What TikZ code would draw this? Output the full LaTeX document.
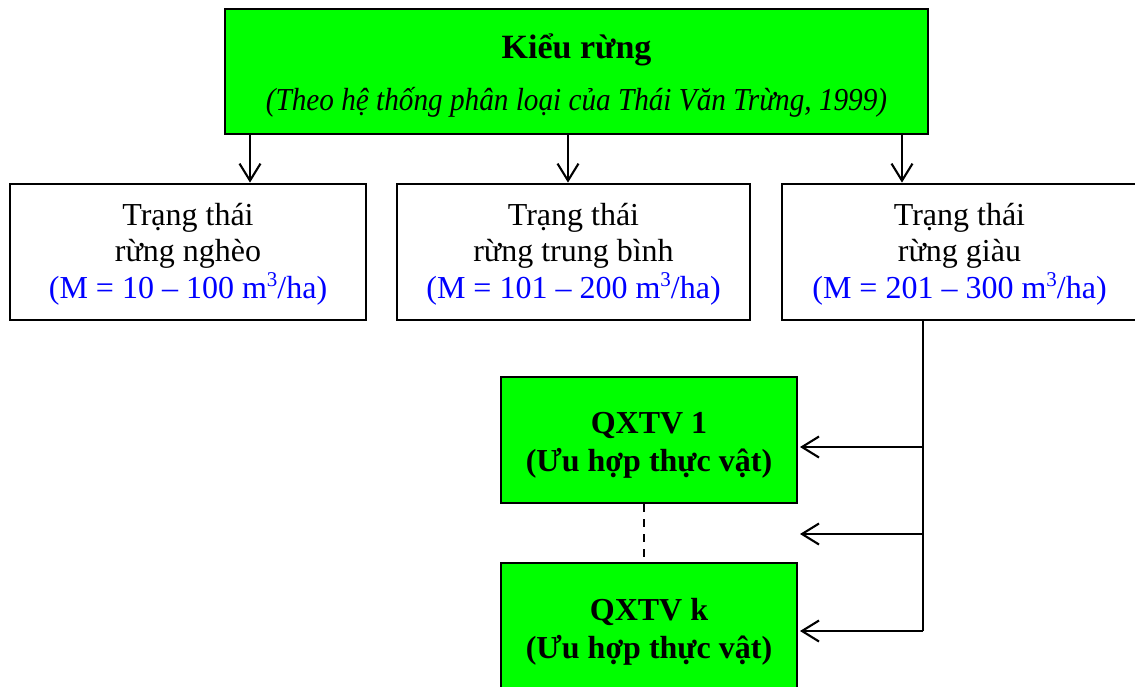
\documentclass[tikz,border=0pt]{standalone}
\usepackage{graphicx}
\usepackage{fontspec}
\setmainfont{Liberation Serif}
\usetikzlibrary{arrows.meta}
\definecolor{boxgreen}{RGB}{0,255,0}
\definecolor{valblue}{RGB}{0,0,255}
\newcommand{\cubesup}{\raisebox{12pt}{\fontsize{21}{21}\selectfont 3}}
\begin{document}
\begin{tikzpicture}[x=1pt,y=-1pt,
  box/.style={draw=black, line width=2.8pt, inner sep=0pt},
  greenbox/.style={box, fill=boxgreen},
  whitebox/.style={box, fill=white},
  boxtext/.style={inner sep=0pt, align=center, font=\fontsize{32}{36.5}\selectfont},
  conn/.style={line width=2.1pt, draw=black,
    -{Straight Barb[length=17pt, width=21pt, line width=2.1pt]}},
  plainline/.style={line width=2.1pt, draw=black},
  dashline/.style={line width=2.2pt, draw=black, dash pattern=on 8pt off 7pt}]
\useasboundingbox (0,0) rectangle (1135,686);
\clip (0,0) rectangle (1135,686);

% top box
\node[greenbox, minimum width=703pt, minimum height=125pt] (top) at (576.5,71.5) {};
\node[boxtext] (toptext) at ([yshift=-4pt]top.center)
  {{\fontsize{34}{36}\selectfont\bfseries Kiểu rừng}\\[16pt]\scalebox{0.913}[1]{\textit{(Theo hệ thống phân loại của Thái Văn Trừng, 1999)}}};

% second row
\node[whitebox, minimum width=356pt, minimum height=136pt] (poor) at (188,252) {};
\node[boxtext] (poortext) at ([yshift=-2pt]poor.center)
  {Trạng thái\\rừng nghèo\\\textcolor{valblue}{(M = 10 – 100 m\cubesup/ha)}};
\node[whitebox, minimum width=353pt, minimum height=136pt] (mid) at (573.5,252) {};
\node[boxtext] (midtext) at ([yshift=-2pt]mid.center)
  {Trạng thái\\rừng trung bình\\\textcolor{valblue}{(M = 101 – 200 m\cubesup/ha)}};
\node[whitebox, minimum width=355pt, minimum height=136pt] (rich) at (959.5,252) {};
\node[boxtext] (richtext) at ([yshift=-2pt]rich.center)
  {Trạng thái\\rừng giàu\\\textcolor{valblue}{(M = 201 – 300 m\cubesup/ha)}};

% QXTV boxes
\node[greenbox, minimum width=296pt, minimum height=126pt] (q1) at (649,440) {};
\node[boxtext, font=\fontsize{32}{38}\selectfont\bfseries] (q1text) at ([yshift=-5pt]q1.center)
  {QXTV 1\\(Ưu hợp thực vật)};
\node[greenbox, minimum width=296pt, minimum height=126pt] (qk) at (649,626) {};
\node[boxtext, font=\fontsize{32}{38}\selectfont\bfseries] (qktext) at ([yshift=-6pt]qk.center)
  {QXTV k\\(Ưu hợp thực vật)};

% helper coordinates
\coordinate (x1) at (250,0);
\coordinate (x2) at (568,0);
\coordinate (x3) at (902,0);
\coordinate (xv) at (923,0);
\coordinate (xd) at (644,0);
\coordinate (xt) at (800,0);
\coordinate (ytop) at (0,447);
\coordinate (ymid) at (0,534);
\coordinate (ybot) at (0,631);

% arrows from top box
\draw[conn] (top.south -| x1) -- (poor.north -| x1);
\draw[conn] (top.south -| x2) -- (mid.north -| x2);
\draw[conn] (top.south -| x3) -- (rich.north -| x3);

% vertical trunk from rich box
\draw[plainline] (rich.south -| xv) -- (xv |- ybot);

% arrows to QXTV boxes
\draw[conn] (xv |- ytop) -- (xt |- ytop);
\draw[conn] (xv |- ymid) -- (xt |- ymid);
\draw[conn] (xv |- ybot) -- (xt |- ybot);

% dashed link
\draw[dashline] (q1.south -| xd) -- (qk.north -| xd);
\end{tikzpicture}
\end{document}
